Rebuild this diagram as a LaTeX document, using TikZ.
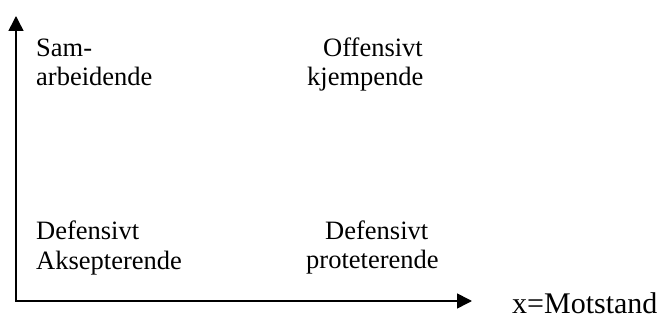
\documentclass[tikz,border=0pt]{standalone}
\usepackage{fontspec}
\setmainfont{Liberation Serif}
\usetikzlibrary{arrows.meta}
\begin{document}
\begin{tikzpicture}[x=1pt,y=-1pt,
  lbl/.style={anchor=base west,inner sep=0pt,font=\fontsize{26.5}{30}\selectfont},
  axis/.style={line width=1.6pt,{Triangle[length=15pt,width=15pt]}-{Triangle[length=15pt,width=15pt]}}]
\useasboundingbox (0,0) rectangle (672,320);
\coordinate (ytip) at (16,16);
\coordinate (o) at (16,301);
\coordinate (xtip) at (472,301);
\draw[axis] (ytip) |- (xtip);
\node[lbl] (sam) at (36,57) {Sam-};
\node[lbl] (arb) at (36,86) {arbeidende};
\node[lbl] (off) at (323,57) {Offensivt};
\node[lbl] (kje) at (307,86) {kjempende};
\node[lbl] (def1) at (36,240) {Defensivt};
\node[lbl] (aks) at (36,270) {Aksepterende};
\node[lbl] (def2) at (325,240) {Defensivt};
\node[lbl] (pro) at (306,269) {proteterende};
\node[lbl,font=\fontsize{30}{34}\selectfont] (mot) at (512,313) {x=Motstand};
\end{tikzpicture}
\end{document}
